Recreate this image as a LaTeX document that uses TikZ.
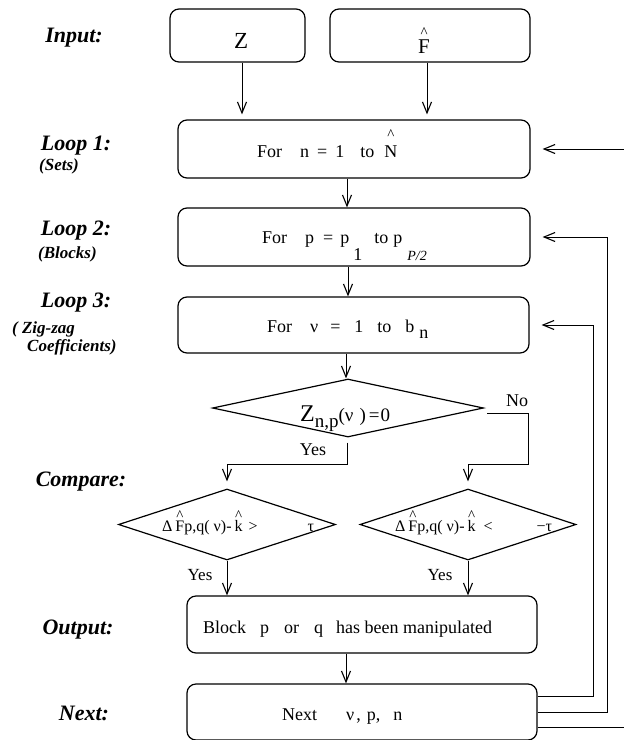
\documentclass[tikz,border=0pt]{standalone}
\usepackage{fontspec}
\setmainfont{Liberation Serif}
\usetikzlibrary{shapes.geometric,arrows.meta}

% circumflex set well above a letter, as in the printed formulas
\newcommand\hatted[2][15pt]{\ooalign{#2\cr\hidewidth\raisebox{#1}{\fontsize{15}{15}\selectfont\textasciicircum}\hidewidth\cr}}

\begin{document}
\begin{tikzpicture}[x=1pt,y=-1pt,
  box/.style={draw, line width=1.2pt, rounded corners=9pt, inner sep=0pt},
  decision/.style={draw, shape=diamond, line width=1.2pt, inner sep=0pt},
  txt/.style={inner sep=0pt, anchor=base west, font=\fontsize{18}{20}\selectfont},
  small/.style={inner sep=0pt, font=\fontsize{17}{19}\selectfont},
  lab/.style={inner sep=0pt, font=\fontsize{22}{24}\selectfont\bfseries\itshape},
  sublab/.style={inner sep=0pt, anchor=west, font=\fontsize{17}{19}\selectfont\bfseries\itshape},
  flow/.style={line width=0.9pt, -{Straight Barb[length=11pt,width=9pt,line width=1.1pt]}}]

\fill[white] (0,0) rectangle (624,740);
\useasboundingbox (0,0) rectangle (624,740);

% stage captions on the left
\node[lab] (linput) at (74,38) {Input:};
\node[lab] (lloop1) at (76,146) {Loop 1:};
\node[sublab] (lsets) at (39,166) {(Sets)};
\node[lab] (lloop2) at (76,231) {Loop 2:};
\node[sublab] (lblocks) at (38,254) {(Blocks)};
\node[lab] (lloop3) at (76,303) {Loop 3:};
\node[sublab] (lzig) at (12,329) {( Zig-zag};
\node[sublab] (lcoef) at (27,347) {Coefficients)};
\node[lab] (lcomp) at (81,482) {Compare:};
\node[lab] (lout) at (78,630) {Output:};
\node[lab] (lnext) at (84,713) {Next:};

% process boxes
\node[box, minimum width=135pt, minimum height=53pt] (z) at (237.5,35.5) {};
\node[box, minimum width=200pt, minimum height=53pt] (f) at (430,35.5) {};
\node[box, minimum width=352pt, minimum height=58pt] (l1) at (354,149) {};
\node[box, minimum width=352pt, minimum height=58pt] (l2) at (354,237) {};
\node[box, minimum width=351pt, minimum height=56pt] (l3) at (353.5,325) {};
\node[box, minimum width=350pt, minimum height=57pt] (out) at (362,624.5) {};
\node[box, minimum width=350pt, minimum height=56pt] (next) at (362,712) {};

% decisions
\node[decision, minimum width=271pt, minimum height=58pt] (zd) at (348,408) {};
\node[decision, minimum width=217pt, minimum height=71pt] (cl) at (227,524.5) {};
\node[decision, minimum width=216pt, minimum height=71pt] (cr) at (468,524.5) {};

% texts inside the shapes
\node[txt, font=\fontsize{23}{25}\selectfont] (tz) at (234,48) {Z};
\node[txt, font=\fontsize{21}{23}\selectfont] (tf) at (418,53) {\hatted[15.5pt]{F}};
\node[txt] (t1) at (257,157) {For\hspace{18pt}n\hspace{8pt}=\hspace{8pt}1\hspace{16pt}to\hspace{10pt}\hatted[17.5pt]{N}};
\node[txt] (t2) at (262,243) {For\hspace{18pt}p\hspace{9pt}=\hspace{7pt}p\hspace{4pt}\raisebox{-17pt}{1}\hspace{12pt}to\hspace{5pt}p\hspace{5pt}\raisebox{-17pt}{\fontsize{14}{14}\selectfont\itshape P/2}};
\node[txt] (t3) at (267,332) {For\hspace{18pt}ν\hspace{12pt}=\hspace{14pt}1\hspace{14pt}to\hspace{14pt}b\hspace{5pt}\raisebox{-6pt}{n}};
\node[txt, font=\fontsize{19}{21}\selectfont] (tzd) at (300,421) {{\fontsize{24}{24}\selectfont Z}\raisebox{-6pt}{n,p}(ν\hspace{6pt})\hspace{3pt}=\hspace{1pt}0};
\node[txt, font=\fontsize{16}{18}\selectfont] (tcl) at (162,531) {Δ\hspace{3pt}\hatted[10.5pt]{F}p,q(\hspace{4pt}ν)-\hspace{3pt}\hatted[10.5pt]{k}\hspace{6pt}>\hspace{50pt}τ};
\node[txt, font=\fontsize{16}{18}\selectfont] (tcr) at (395,531) {Δ\hspace{3pt}\hatted[10.5pt]{F}p,q(\hspace{4pt}ν)-\hspace{3pt}\hatted[10.5pt]{k}\hspace{8pt}<\hspace{44pt}−τ};
\node[txt] (tout) at (203,633) {Block\hspace{14pt}p\hspace{15pt}or\hspace{15pt}q\hspace{13pt}has been manipulated};
\node[txt] (tnext) at (282,720) {Next\hspace{29pt}ν\hspace{2pt},\hspace{6pt}p,\hspace{13pt}n};

% branch labels
\node[small, font=\fontsize{18}{20}\selectfont] (no) at (517,401) {No};
\node[small, font=\fontsize{18}{20}\selectfont] (yes) at (313,450) {Yes};
\node[small] (yesl) at (200,575) {Yes};
\node[small] (yesr) at (440,575) {Yes};

% bend points of the routed connectors
\coordinate (ybend) at (0,464);
\coordinate (nbend) at (528,464);
\coordinate (r3) at (593,0);
\coordinate (r2) at (607,0);
\coordinate (r1) at (627,0);

% straight flow
\draw[flow, shorten >=5pt] ([xshift=4.5pt]z.south) coordinate (zs) -- (zs |- l1.north);
\draw[flow, shorten >=5pt] ([xshift=-3pt]f.south) coordinate (fs) -- (fs |- l1.north);
\draw[flow] ([xshift=-7pt]l1.south) coordinate (s1) -- (s1 |- l2.north);
\draw[flow] ([xshift=-6pt]l2.south) coordinate (s2) -- (s2 |- l3.north);
\draw[flow] ([xshift=-7.5pt]l3.south) coordinate (s3) -- (s3 |- zd.north);

% decision branches
\draw[flow, shorten >=7pt] ([shift={(-1,5)}]zd.south) coordinate (ys) -- (ys |- ybend) -| (cl.north);
\draw[flow, shorten >=7pt] ([shift={(3,5)}]zd.east) -| (nbend) -| (cr.north);
\draw[flow] (cl.south) -- (cl.south |- out.north);
\draw[flow] (cr.south) -- (cr.south |- out.north);
\draw[flow] ([xshift=-16pt]out.south) coordinate (os) -- (os |- next.north);

% loop returns
\draw[flow, shorten >=12pt] ([yshift=15.5pt]next.east) coordinate (b3) -- (b3 -| r3) -- (r3 |- l3.east) -- (l3.east);
\draw[flow, shorten >=12pt] ([yshift=0pt]next.east) coordinate (b2) -- (b2 -| r2) -- (r2 |- l2.east) -- (l2.east);
\draw[flow, shorten >=12pt] ([yshift=-15pt]next.east) coordinate (b1) -- (b1 -| r1) -- (r1 |- l1.east) -- (l1.east);
\end{tikzpicture}
\end{document}
